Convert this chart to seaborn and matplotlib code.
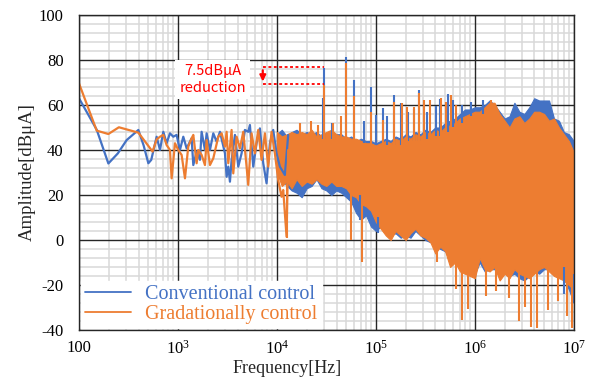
import numpy as np
import matplotlib
matplotlib.use("Agg")
import matplotlib.pyplot as plt
from matplotlib.ticker import FixedLocator, MultipleLocator, FuncFormatter, NullFormatter
import seaborn as sns

# ---- values (Hz / dBuA) ----
# below ~10 kHz the traces are plain lines
conv_f = [100, 151, 198, 247, 303, 398, 450, 502, 537, 609, 658, 711, 768, 830, 897, 969,
          1047, 1132, 1224, 1374, 1429, 1544, 1668, 1734, 1874, 1948, 2105, 2275, 2459, 2657,
          2985, 3102, 3225, 3352, 3484, 3765, 4068, 4395, 4749, 5131, 5334, 5764, 6228, 6729,
          7271, 7857, 8490, 9174, 9912, 10710, 12030, 13000]
conv_db = [63, 49, 34, 38.5, 44.4, 48.9, 42, 34.1, 35.6, 45.9, 40, 48.1, 43, 47.4, 45.9, 46.7,
           40, 45.9, 40.7, 45.2, 33.3, 39.3, 35.6, 48.1, 40, 47.4, 40, 47.4, 43.7, 48.1,
           38.5, 28.1, 32.6, 25.9, 35.6, 46.7, 32.6, 38.5, 48.9, 48.1, 51.1, 32.6, 43, 49.6,
           34.1, 25.2, 43, 48.9, 38.5, 32.6, 28.9, 46.7]

grad_f = [100, 151, 198, 253, 398, 554, 609, 658, 711, 768, 830, 863, 933, 1007, 1089, 1177,
          1271, 1374, 1429, 1544, 1605, 1734, 1874, 1948, 2105, 2275, 2556, 2762, 2985, 3102,
          3225, 3484, 3622, 3913, 4228, 4569, 4937, 5131, 5545, 5991, 6474, 6995, 7559, 8167,
          8825, 9536, 10300, 11140, 11580, 12510, 13000]
grad_db = [69.6, 48.6, 47.1, 50.1, 47.7, 39.3, 44.7, 45.9, 46.7, 42.2, 40, 27.4, 43, 40, 37.8, 27.4,
           41.5, 45.2, 46.7, 34.1, 40, 37.8, 33.3, 44.4, 33.3, 36.3, 45.9, 47.4, 41.5, 48.1,
           34.1, 48.9, 29.6, 45.9, 40.7, 48.1, 32.6, 24.5, 47.4, 38.5, 48.9, 35.6, 47.4, 32.6,
           48.1, 38.5, 26.7, 19.2, 22.2, 1.5, 40]

# above 10 kHz the ripple is so dense it fills a band: upper / lower envelope
band_f = [1.00e4, 1.12e4, 1.26e4, 1.41e4, 1.58e4, 1.78e4, 2.00e4, 2.24e4, 2.51e4, 2.82e4,
          3.16e4, 3.55e4, 3.98e4, 4.47e4, 5.01e4, 5.62e4, 6.31e4, 7.08e4, 7.94e4, 8.91e4,
          1.00e5, 1.12e5, 1.26e5, 1.41e5, 1.58e5, 1.78e5, 2.00e5, 2.24e5, 2.51e5, 2.82e5,
          3.16e5, 3.55e5, 3.98e5, 4.47e5, 5.01e5, 5.62e5, 6.31e5, 7.08e5, 7.94e5, 8.91e5,
          1.00e6, 1.12e6, 1.26e6, 1.41e6, 1.58e6, 1.78e6, 2.00e6, 2.24e6, 2.51e6, 2.82e6,
          3.16e6, 3.55e6, 3.98e6, 4.47e6, 5.01e6, 5.62e6, 6.31e6, 7.08e6, 7.94e6, 8.91e6, 1.00e7]
conv_hi = [47, 49, 46, 48, 49, 47, 48, 47, 48, 46, 47, 46, 47, 47, 45, 46, 44, 45, 44, 44,
           43, 44, 45, 44, 46, 45, 47, 46, 48, 47, 49, 48, 50, 50, 52, 53, 54, 56, 58, 58,
           59, 59, 60, 62, 60, 57, 54, 55, 61, 57, 56, 59, 63, 62, 62, 62, 54, 53, 48, 47, 44]
conv_lo = [28, 27, 24, 22, 21, 19, 23, 24, 27, 23, 22, 20, 22, 21, 19, 17, 12, 9, 11, 6,
           4, 6, 3, 2, 3, 1, 2, 1, 4, 2, 0, -1, -2, -4, -5, -8, -9, -12, -13, -15,
           -15, -10, -14, -13, -13, -16, -14, -16, -15, -17, -18, -16, -14, -15, -13, -13, -15, -16, -17, -22, -28]
grad_hi = [48, 46, 47, 48, 47, 48, 47, 49, 46, 47, 48, 49, 47, 46, 46, 45, 45, 44, 43, 43,
           42, 43, 44, 43, 45, 44, 46, 45, 47, 46, 48, 47, 49, 48, 50, 51, 52, 54, 55, 56,
           57, 57, 59, 61, 61, 56, 53, 50, 54, 55, 52, 54, 57, 57, 56, 53, 54, 50, 47, 44, 39]
grad_lo = [30, 24, 26, 23, 27, 24, 26, 25, 27, 25, 24, 26, 24, 24, 23, 20, 19, 16, 15, 13,
           8, 5, 2, 0, 4, 2, 0, 3, 5, 2, 1, -1, -6, -3, -5, -12, -10, -14, -15, -16,
           -17, -8, -13, -14, -12, -18, -15, -17, -13, -15, -16, -17, -15, -13, -12, -14, -16, -17, -18, -20, -22]

# single harmonics / dips sticking out of the band (freq, bottom, top)
conv_st_f = [2.9e4, 3.0e4, 3.6e4, 5.0e4, 6.0e4, 7.6e4, 8.9e4, 1.0e5, 1.19e5, 1.3e5, 1.51e5,
             1.79e5, 2.1e5, 2.4e5, 2.75e5, 3.3e5, 4.03e5, 4.45e5, 5.37e5, 6.04e5, 7.5e5, 9.1e5,
             1.2e6, 6.9e4, 1.05e5, 8.0e6, 1.0e7]
conv_st_bot = [45, 45, 45, 45, 45, 43, 43, 42, 42, 42, 42,
               42, 44, 44, 44, 45, 46, 46, 48, 50, 52, 55,
               56, 9, 3, -24, -28]
conv_st_top = [63, 76.5, 52, 81.5, 71, 53, 68, 55.6, 58.6, 55, 64.4,
               60.7, 57, 58, 66.7, 57, 59.6, 62.6, 64.8, 62, 60, 61.5,
               62, 20, 10, -12, -15]

grad_st_f = [1.7e4, 2.19e4, 2.6e4, 3.0e4, 3.7e4, 4.4e4, 5.0e4, 6.0e4, 8.9e4, 1.19e5, 1.51e5,
             1.85e5, 2.04e5, 2.44e5, 2.75e5, 3.05e5, 3.5e5, 4.5e5, 5.06e5, 5.7e5, 6.5e5, 1.45e6,
             1.25e4, 5.67e4, 7.16e4, 4.1e5, 6.5e5, 7.4e5, 8.5e5, 1.3e6, 1.65e6, 2.2e6, 2.8e6,
             3.2e6, 3.7e6, 4.2e6, 5.5e6, 6.9e6, 8.6e6, 9.5e6]
grad_st_bot = [40, 40, 40, 40, 40, 40, 40, 40, 40, 40, 40,
               40, 40, 40, 40, 40, 40, 45, 45, 45, 48, 55,
               1, 0, -10, -10, -22, -35.6, -30.6, -25, -22.6, -26, -36,
               -30, -38.5, -39.2, -31, -27, -34, -39.2]
grad_st_top = [52, 53, 51, 69, 52, 55, 78.5, 64, 57, 53.5, 61.5,
               60.7, 59, 59.3, 65.2, 62, 62.2, 63, 61.5, 64.5, 60, 62.2,
               25, 22, 18, 0, -8, -10, -10, -10, -12, -14, -12,
               -14, -14, -12, -12, -15, -16, -18]

# "7.5 dBuA reduction" marker
mark_f = [7.2e3, 3.0e4]
mark_db = [76.7, 69.2]

BLUE = "#4472C4"
ORANGE = "#ED7D31"

sns.set_theme(style="white")
plt.rcParams["font.family"] = ["Liberation Serif", "DejaVu Serif"]
plt.rcParams["mathtext.fontset"] = "custom"
plt.rcParams["mathtext.rm"] = "Liberation Serif"
plt.rcParams["axes.unicode_minus"] = False

fig = plt.figure(figsize=(5.94, 3.85), dpi=100)
ax = fig.add_axes([0.133, 0.143, 0.833, 0.818])
ax.set_xscale("log")

# --- conventional control (drawn first, underneath) ---
sns.lineplot(x=conv_f, y=conv_db, ax=ax, color=BLUE, lw=1.6, label="Conventional control")
ax.fill_between(band_f, conv_lo, conv_hi, color=BLUE, lw=0.8, edgecolor=BLUE)
ax.vlines(conv_st_f, conv_st_bot, conv_st_top, colors=BLUE, lw=1.5)

# --- gradational control ---
sns.lineplot(x=grad_f, y=grad_db, ax=ax, color=ORANGE, lw=1.6, label="Gradationally control")
ax.fill_between(band_f, grad_lo, grad_hi, color=ORANGE, lw=0.8, edgecolor=ORANGE)
ax.vlines(grad_st_f, grad_st_bot, grad_st_top, colors=ORANGE, lw=1.5)

# --- axes, grid ---
ax.set_xlim(100, 1e7)
ax.set_ylim(-40, 100)
x_major = [1e2, 1e3, 1e4, 1e5, 1e6, 1e7]
ax.xaxis.set_major_locator(FixedLocator(x_major))
ax.xaxis.set_minor_locator(FixedLocator([m * 10 ** d for d in range(2, 7) for m in range(2, 10)]))
ax.xaxis.set_minor_formatter(NullFormatter())
ax.xaxis.set_major_formatter(FuncFormatter(
    lambda v, _: "100" if v < 150 else r"$\mathregular{10^{%d}}$" % round(np.log10(v))))
ax.yaxis.set_major_locator(MultipleLocator(20))
ax.yaxis.set_minor_locator(MultipleLocator(4))
ax.grid(which="minor", color="#d9d9d9", lw=1.1)
ax.grid(which="major", visible=False)
ax.set_axisbelow(True)
# dark major grid on top of the light minor one, still under the data
for xv in x_major:
    ax.axvline(xv, color="#262626", lw=1.0, zorder=0.8)
for yv in range(-40, 101, 20):
    ax.axhline(yv, color="#262626", lw=1.0, zorder=0.8)
for s in ax.spines.values():
    s.set_color("#262626")
    s.set_linewidth(1.0)
ax.tick_params(which="both", length=0, labelsize=12, colors="black")
ax.tick_params(axis="x", pad=7)
ax.tick_params(axis="y", pad=11)

ax.set_xlabel("Frequency[Hz]", fontsize=13)
ax.xaxis.set_label_coords(0.42, -0.095)
ax.set_ylabel("Amplitude[dBμA]", fontsize=13.5, labelpad=2)

# --- annotation ---
ax.text(2.25e3, 71.3, "7.5dBμA\nreduction", color="red", fontsize=10.5, ha="center", va="center",
        linespacing=1.3, family=["Noto Sans CJK JP", "DejaVu Sans"],
        bbox=dict(facecolor="white", edgecolor="none", pad=3), zorder=6)
ax.hlines(mark_db, mark_f[0], mark_f[1], colors="red", lw=1.3, linestyles=(0, (1.6, 1.4)), zorder=6)
ax.annotate("", xy=(mark_f[0], mark_db[1]), xytext=(mark_f[0], mark_db[0]),
            arrowprops=dict(arrowstyle="-|>", color="red", lw=1.5, mutation_scale=9), zorder=6)

leg = ax.legend(loc="lower left", fontsize=14.5, frameon=True, facecolor="white", edgecolor="white",
                framealpha=1, fancybox=False, borderaxespad=0.1, borderpad=0.2,
                handlelength=2.3, handletextpad=0.7, labelspacing=0.05, labelcolor="linecolor")
for h in leg.get_lines():
    h.set_linewidth(1.3)

fig.savefig("out.png", dpi=100)
